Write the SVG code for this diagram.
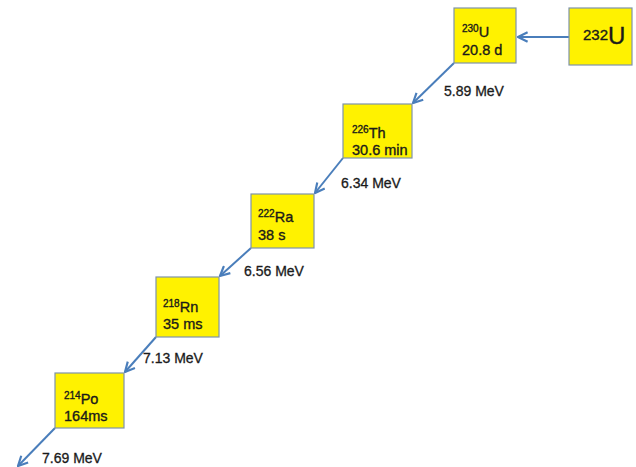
<svg xmlns="http://www.w3.org/2000/svg" width="636" height="467" viewBox="0 0 636 467">
<style>
.box{fill:#FFF200;stroke:#7f93aa;stroke-width:1.2}
.t{font-family:"Liberation Sans",Arial,sans-serif;font-size:14.5px;fill:#1a1a1a;stroke:#1a1a1a;stroke-width:0.35}
.s{font-size:10px}
.e{font-family:"Liberation Sans",Arial,sans-serif;font-size:14px;fill:#1a1a1a;stroke:#1a1a1a;stroke-width:0.3}
.c{stroke:#4a7ebb;stroke-width:2;fill:none;marker-end:url(#ah)}
</style>
<defs>
<marker id="ah" viewBox="0 0 10 10" refX="9" refY="5" markerWidth="6" markerHeight="6" orient="auto" markerUnits="strokeWidth">
<path d="M1,1 L9,5 L1,9" fill="none" stroke="#4a7ebb" stroke-width="1.8"/>
</marker>
</defs>
<rect width="636" height="467" fill="#ffffff"/>
<g id="connectors">
<line class="c" x1="569" y1="37" x2="518" y2="37"/>
<line class="c" x1="454" y1="63" x2="413" y2="103"/>
<line class="c" x1="343" y1="158" x2="315" y2="193"/>
<line class="c" x1="251" y1="248" x2="220" y2="276"/>
<line class="c" x1="156" y1="337" x2="125" y2="372"/>
<line class="c" x1="55" y1="428" x2="18" y2="466"/>
</g>
<g id="n232U">
<rect class="box" x="569" y="8" width="63" height="57"/>
<text class="t" x="583" y="40"><tspan style="font-size:15px">232</tspan><tspan dy="4" style="font-size:24px">U</tspan></text>
</g>
<g id="n230U">
<rect class="box" x="454" y="8" width="62" height="55"/>
<text class="t" x="462" y="37"><tspan class="s" dy="-5">230</tspan><tspan dy="5">U</tspan></text>
<text class="t" x="462" y="55">20.8 d</text>
</g>
<g id="n226Th">
<rect class="box" x="343" y="104" width="69" height="54"/>
<text class="t" x="352" y="138"><tspan class="s" dy="-5">226</tspan><tspan dy="5">Th</tspan></text>
<text class="t" x="352" y="155">30.6 min</text>
</g>
<g id="n222Ra">
<rect class="box" x="251" y="194" width="63" height="54"/>
<text class="t" x="258" y="222"><tspan class="s" dy="-5">222</tspan><tspan dy="5">Ra</tspan></text>
<text class="t" x="258" y="240">38 s</text>
</g>
<g id="n218Rn">
<rect class="box" x="156" y="277" width="63" height="60"/>
<text class="t" x="163" y="312"><tspan class="s" dy="-5">218</tspan><tspan dy="5">Rn</tspan></text>
<text class="t" x="163" y="329">35 ms</text>
</g>
<g id="n214Po">
<rect class="box" x="55" y="373" width="69" height="55"/>
<text class="t" x="64" y="404"><tspan class="s" dy="-5">214</tspan><tspan dy="5">Po</tspan></text>
<text class="t" x="64" y="421">164ms</text>
</g>
<g id="labels">
<text class="e" x="444" y="96">5.89 MeV</text>
<text class="e" x="341" y="188">6.34 MeV</text>
<text class="e" x="244" y="276">6.56 MeV</text>
<text class="e" x="143" y="363">7.13 MeV</text>
<text class="e" x="42" y="463">7.69 MeV</text>
</g>
</svg>
